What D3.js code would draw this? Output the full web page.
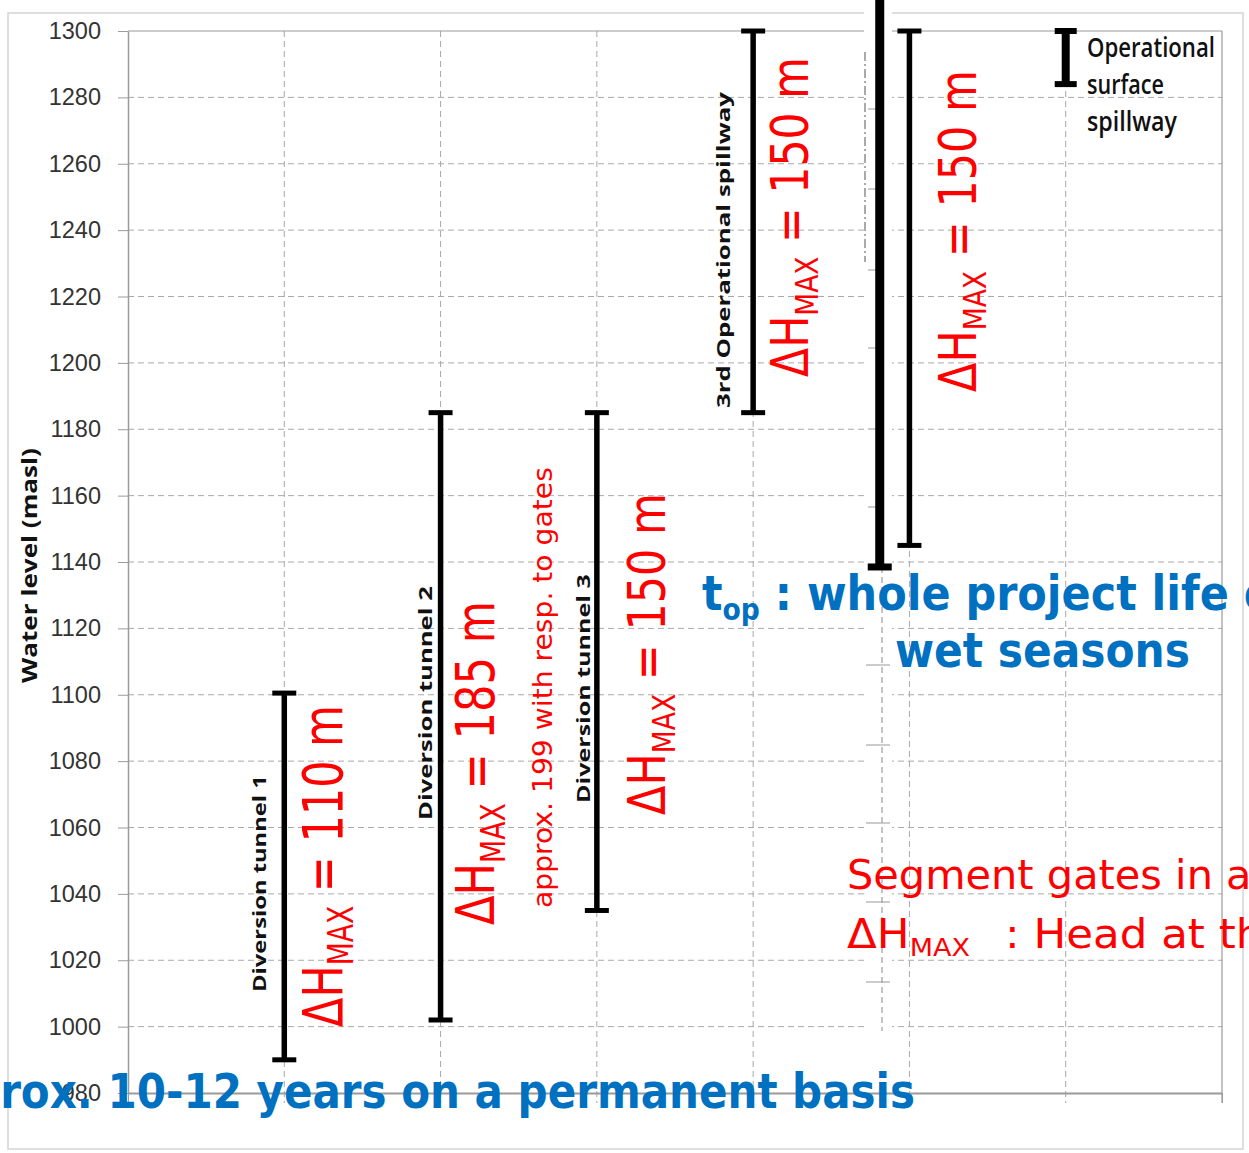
<!DOCTYPE html>
<html><head><meta charset="utf-8">
<script src="https://cdn.jsdelivr.net/npm/d3@7"></script>
<style>body{margin:0;background:#fff}svg{display:block}</style>
</head><body>
<script>
// ---------- data ----------
const yTickValues = [980,1000,1020,1040,1060,1080,1100,1120,1140,1160,1180,1200,1220,1240,1260,1280,1300];
const structures = ["Diversion tunnel 1","Diversion tunnel 2","Diversion tunnel 3","3rd Operational spillway","Overlay spillway","Spillway","Operational surface spillway"];
const structurePos = [1, 2, 3, 4, 4.81, 5, 6];
const lowLevels  = [990, 1002, 1035, 1185, 1138.5, 1145, 1284];
const highLevels = [1100.5, 1185, 1185, 1300, 1312, 1300, 1300];
const headValues = [110, 185, 150, 150, 150];
const legendLines = ["Operational","surface","spillway"];

// ---------- setup ----------
const W = 1249, H = 1153;
const svg = d3.select("body").append("svg").attr("width", W).attr("height", H);
const x = d3.scaleLinear().domain([0, 7]).range([128, 1222]);
const y = d3.scaleLinear().domain([980, 1300]).range([1093, 31]);

// outer frame
svg.append("rect").attr("x", 8).attr("y", 13).attr("width", 1235).attr("height", 1136)
  .attr("fill", "none").attr("stroke", "#d4d4d4").attr("stroke-width", 1.5);

const grid = "#a8a8a8";
// horizontal dashed gridlines
svg.append("g").selectAll("line").data(yTickValues.filter(v => v > 980 && v < 1300)).join("line")
  .attr("x1", x(0)).attr("x2", x(7)).attr("y1", d => y(d)).attr("y2", d => y(d))
  .attr("stroke", grid).attr("stroke-width", 1).attr("stroke-dasharray", "6,4");
// vertical dashed gridlines
svg.append("g").selectAll("line").data([1,2,3,4,5,6]).join("line")
  .attr("x1", d => x(d)).attr("x2", d => x(d)).attr("y1", y(1300)).attr("y2", y(980) + 10)
  .attr("stroke", grid).attr("stroke-width", 1).attr("stroke-dasharray", "6,4");
// plot border top & right
svg.append("line").attr("x1", x(0)).attr("x2", x(7)).attr("y1", y(1300)).attr("y2", y(1300))
  .attr("stroke", "#9a9a9a").attr("stroke-width", 1.2);
svg.append("line").attr("x1", x(7)).attr("x2", x(7)).attr("y1", y(1300)).attr("y2", y(980) + 10)
  .attr("stroke", "#9a9a9a").attr("stroke-width", 1.2);

// y axis
const yAxis = svg.append("g").attr("transform", `translate(${x(0)},0)`)
  .call(d3.axisLeft(y).tickValues(yTickValues).tickSize(10).tickSizeOuter(0).tickPadding(17).tickFormat(d3.format("d")));
yAxis.select(".domain").attr("stroke", "#9a9a9a").attr("stroke-width", 1.5);
yAxis.selectAll(".tick line").attr("stroke", "#9a9a9a");
yAxis.selectAll(".tick text").attr("font-family", "Liberation Sans, Arial, sans-serif")
  .attr("font-size", 23.5).attr("fill", "#333");
// x axis (no labels)
const xAxis = svg.append("g").attr("transform", `translate(0,${y(980)})`)
  .call(d3.axisBottom(x).tickValues([0,7]).tickSize(10).tickSizeOuter(0).tickFormat(""));
xAxis.select(".domain").attr("stroke", "#9a9a9a").attr("stroke-width", 2);
xAxis.selectAll(".tick line").attr("stroke", "#9a9a9a");

// pasted overlay strip (from another chart)
svg.append("rect").attr("x", 864).attr("y", 0).attr("width", 28).attr("height", 1031).attr("fill", "#fff");
svg.append("line").attr("x1", 882).attr("x2", 882).attr("y1", 567).attr("y2", 1031)
  .attr("stroke", "#8a8a8a").attr("stroke-dasharray", "6,4");
const overlayTicks = [109, 189, 270, 348, 429, 507, 665, 745, 823, 902, 982];
svg.append("g").selectAll("line").data(overlayTicks).join("line")
  .attr("x1", d => d < 560 ? 868 : 866).attr("x2", d => d < 560 ? 879 : 890)
  .attr("y1", d => d).attr("y2", d => d).attr("stroke", "#999").attr("stroke-width", 1);
svg.append("line").attr("x1", 865).attr("x2", 865).attr("y1", 52).attr("y2", 262)
  .attr("stroke", "#555").attr("stroke-width", 1).attr("stroke-dasharray", "9,3,2,3");

// ---------- error bars ----------
const barStyle = i => i === 4 ? {w: 9, cap: 24, ct: 7} : i === 6 ? {w: 8, cap: 22, ct: 6} : {w: 5.5, cap: 24, ct: 5};
const bars = svg.append("g");
structures.forEach((s, i) => {
  const st = barStyle(i), cx = x(structurePos[i]);
  const g = bars.append("g").attr("class", "bar");
  g.append("line").attr("x1", cx).attr("x2", cx).attr("y1", y(highLevels[i])).attr("y2", y(lowLevels[i]))
    .attr("stroke", "#000").attr("stroke-width", st.w);
  [highLevels[i], lowLevels[i]].forEach(v => {
    g.append("line").attr("x1", cx - st.cap/2).attr("x2", cx + st.cap/2).attr("y1", y(v)).attr("y2", y(v))
      .attr("stroke", "#000").attr("stroke-width", st.ct);
  });
});

// ---------- text helper ----------
function addParts(t, parts, size) {
  let shifted = false;
  parts.forEach(p => {
    const sp = t.append("tspan").text(p.t);
    if (p.sub) { sp.attr("font-size", size * 0.62); if (!shifted) sp.attr("dy", size * 0.2); shifted = true; }
    else if (shifted) { sp.attr("dy", -size * 0.2); shifted = false; }
  });
}
function styled(t, o) {
  return t.attr("font-family", o.family).attr("font-size", o.size).attr("font-weight", o.weight || 400)
    .attr("fill", o.fill).attr("text-anchor", o.anchor || "start").style("white-space", "pre");
}
function drawText(o) {
  const g = svg.append("g").attr("transform", `translate(${o.x},${o.y}) rotate(${o.rot || 0})`);
  const t = styled(g.append("text"), o);
  addParts(t, o.parts, o.size);
  if (o.width) {
    let w;
    if (o.fit) {
      const tmp = styled(g.append("text"), o).attr("text-anchor", "start");
      addParts(tmp, o.fit.map(i => o.parts[i]), o.size);
      w = tmp.node().getComputedTextLength(); tmp.remove();
    } else w = t.node().getComputedTextLength();
    t.attr("transform", `scale(${o.width / w},1)`);
  }
}
const BLK = "Open Sans, DejaVu Sans, sans-serif";
const TAH = "DejaVu Sans, Verdana, sans-serif";
const RED = "#ff0000", BLUE = "#0070c0";

// y axis title
drawText({x: 37, y: 683, rot: -90, family: BLK, size: 21, weight: 700, fill: "#111", parts: [{t: "Water level (masl)"}], width: 235});

// structure names (rotated)
const nameLayout = [
  {x: 266, y: 992, width: 217},
  {x: 432, y: 820, width: 234},
  {x: 590, y: 803, width: 229},
  {x: 730, y: 408, width: 316}
];
nameLayout.forEach((l, i) => drawText({x: l.x, y: l.y, rot: -90, family: BLK, size: 18.5, weight: 700, fill: "#111",
  parts: [{t: structures[i]}], width: l.width}));

// head labels (rotated red)
const headLayout = [
  {x: 342, y: 1027, width: 322, size: 56},
  {x: 494, y: 925, width: 324, size: 53},
  {x: 665, y: 815, width: 322, size: 52},
  {x: 808, y: 377, width: 320, size: 51},
  {x: 976, y: 392, width: 322, size: 51}
];
headLayout.forEach((l, i) => drawText({x: l.x, y: l.y, rot: -90, family: TAH, size: l.size, fill: RED,
  parts: [{t: "ΔH"}, {t: "MAX", sub: true}, {t: ` = ${headValues[i]} m`}], width: l.width}));
drawText({x: 552, y: 908, rot: -90, family: TAH, size: 27, fill: RED, parts: [{t: "approx. 199 with resp. to gates"}], width: 441});

// legend
legendLines.forEach((s, i) => drawText({x: 1087, y: [57, 94, 131][i], family: BLK, size: 27, weight: 600, fill: "#111",
  parts: [{t: s}], width: [128, 77, 90][i]}));

// blue annotations
drawText({x: 702, y: 610, family: TAH, size: 48, weight: 700, fill: BLUE,
  parts: [{t: "t"}, {t: "op", sub: true}, {t: " : whole project life"}, {t: " of"}], fit: [0, 1, 2], width: 527});
drawText({x: 895, y: 667, family: TAH, size: 48, weight: 700, fill: BLUE, parts: [{t: "wet seasons"}], width: 295});
drawText({x: 915, y: 1108, family: TAH, size: 48, weight: 700, fill: BLUE, anchor: "end",
  parts: [{t: "app"}, {t: "rox. 10-12 years on a permanent basis"}], fit: [1], width: 915});

// red annotations
drawText({x: 847, y: 889, family: TAH, size: 41, fill: RED, parts: [{t: "Segment gates in"}, {t: " a"}], fit: [0], width: 366});
drawText({x: 847, y: 948, family: TAH, size: 41, fill: RED, parts: [{t: "ΔH"}, {t: "MAX", sub: true}], width: 123});
drawText({x: 1005, y: 948, family: TAH, size: 41, fill: RED, parts: [{t: ": Head at"}, {t: " the"}], fit: [0], width: 200});
</script>
</body></html>
